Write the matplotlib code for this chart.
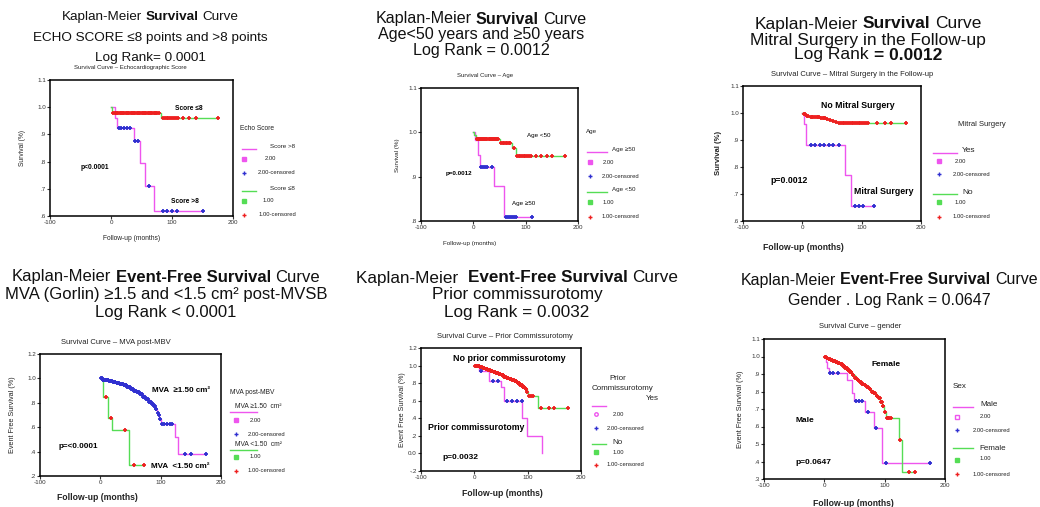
"""
 Six Kaplan-Meier survival panels (SPSS style) on one slide
"""

# Libraries
import numpy as np
import matplotlib
matplotlib.use("Agg")
import matplotlib.pyplot as plt
from matplotlib.lines import Line2D

plt.rcParams['font.family'] = ['Liberation Sans', 'DejaVu Sans']

# Constants
W, H     = 1040, 507
MAGENTA  = "#ee55ee"
GREEN    = "#55dd55"
BLUE     = "#3030d0"
RED      = "#ee2020"
X_TICKS  = [-100, 0, 100, 200]

# Panel 1 - echo score
echo_hi_times = [7, 10, 37, 48, 56, 70]
echo_hi_surv  = [0.961, 0.925, 0.874, 0.794, 0.712, 0.620]
echo_hi_cens  = [13, 17, 21, 26, 31, 40, 44, 63, 85, 92, 100, 108, 151]
echo_lo_times = [2, 82]
echo_lo_surv  = [0.980, 0.961]
echo_lo_cens  = [4, 6, 8, 10, 12, 14, 16, 18, 20, 22, 24, 26, 28, 30, 32, 34, 36, 38, 40, 42,
                 44, 46, 48, 50, 52, 54, 56, 58, 60, 62, 64, 66, 68, 70, 72, 74, 76, 78,
                 85, 88, 91, 94, 97, 100, 103, 106, 110, 118, 128, 140, 175]

# Panel 2 - age
age_hi_times = [4, 9, 12, 39, 58]
age_hi_surv  = [0.983, 0.949, 0.921, 0.879, 0.810]
age_hi_cens  = [15, 19, 23, 27, 35, 62, 66, 70, 74, 78, 82, 112]
age_lo_times = [2, 5, 50, 74, 81]
age_lo_surv  = [0.993, 0.986, 0.976, 0.965, 0.947]
age_lo_cens  = [7, 9, 11, 13, 15, 17, 19, 21, 23, 25, 27, 29, 31, 33, 35, 37, 39, 41, 43, 45, 47,
                53, 56, 59, 62, 65, 68, 71, 77, 84, 87, 90, 93, 96, 99, 102, 106, 110, 120, 130,
                140, 150, 175]

# Panel 3 - mitral surgery
mit_yes_times = [3, 6, 72, 82]
mit_yes_surv  = [0.961, 0.881, 0.770, 0.657]
mit_yes_cens  = [15, 22, 30, 37, 45, 52, 62, 88, 96, 102, 121]
mit_no_times  = [2, 6, 12, 20, 30, 40, 45, 50, 55, 60]
mit_no_surv   = [0.995, 0.990, 0.987, 0.985, 0.982, 0.978, 0.974, 0.970, 0.966, 0.962]
mit_no_cens   = [3, 5, 8, 10, 14, 16, 18, 22, 24, 26, 28, 32, 34, 36, 38, 42, 47, 52, 57, 62,
                 65, 68, 71, 74, 77, 80, 83, 86, 89, 92, 95, 98, 101, 104, 107, 110, 125, 140,
                 150, 175]

# Panel 4 - MVA post-MBV
mva_hi_times = [3, 8, 14, 20, 26, 32, 38, 44, 50, 55, 60, 65, 70, 75, 80, 85, 88, 91, 94, 96,
                98, 100, 124, 129]
mva_hi_surv  = [0.99, 0.985, 0.978, 0.972, 0.965, 0.955, 0.945, 0.93, 0.915, 0.90, 0.885, 0.87,
                0.85, 0.83, 0.81, 0.79, 0.77, 0.75, 0.72, 0.70, 0.67, 0.626, 0.52, 0.38]
mva_hi_cens  = [1, 2, 4, 5, 6, 7, 9, 10, 11, 12, 13, 15, 16, 17, 18, 19, 21, 22, 23, 24, 25, 27,
                28, 29, 30, 31, 33, 34, 35, 36, 37, 39, 40, 41, 42, 43, 45, 46, 47, 48, 49, 51,
                52, 53, 54, 56, 57, 58, 59, 61, 62, 63, 64, 66, 67, 68, 69, 71, 72, 73, 74, 76,
                77, 78, 79, 81, 82, 83, 84, 86, 87, 89, 90, 92, 93, 95, 97, 99, 103, 106, 110,
                115, 119, 140, 150, 175]
mva_lo_times = [5, 13, 19, 47]
mva_lo_surv  = [0.85, 0.672, 0.577, 0.29]
mva_lo_cens  = [10, 17, 41, 55, 72]

# Panel 5 - prior commissurotomy
com_yes_times = [8, 28, 50, 55, 90, 98, 127]
com_yes_surv  = [0.943, 0.829, 0.76, 0.60, 0.40, 0.20, 0.0]
com_yes_cens  = [13, 35, 45, 62, 71, 80, 89]
com_no_times  = [5, 10, 15, 20, 25, 30, 35, 40, 45, 50, 55, 60, 65, 70, 75, 80, 85, 90, 95, 98,
                 101, 120]
com_no_surv   = [0.99, 0.98, 0.97, 0.96, 0.95, 0.94, 0.93, 0.92, 0.905, 0.89, 0.875, 0.86, 0.85,
                 0.835, 0.82, 0.80, 0.78, 0.76, 0.73, 0.70, 0.657, 0.516]
com_no_cens   = [2, 3, 4, 6, 7, 8, 9, 11, 12, 13, 14, 16, 17, 18, 19, 21, 22, 23, 24, 26, 27, 28,
                 29, 31, 32, 33, 34, 36, 37, 38, 39, 41, 42, 43, 44, 46, 47, 48, 49, 51, 52, 53,
                 54, 56, 57, 58, 59, 61, 62, 63, 64, 66, 67, 68, 69, 71, 72, 73, 74, 76, 77, 78,
                 79, 81, 82, 83, 84, 86, 87, 88, 89, 91, 92, 93, 94, 96, 97, 99, 103, 106, 110,
                 125, 140, 150, 175]

# Panel 6 - gender
sex_m_times = [2, 4, 7, 38, 46, 49, 68, 82, 96]
sex_m_surv  = [0.968, 0.937, 0.905, 0.866, 0.794, 0.748, 0.685, 0.59, 0.393]
sex_m_cens  = [10, 15, 22, 52, 57, 62, 72, 85, 102, 175]
sex_f_times = [3, 6, 10, 14, 18, 22, 26, 30, 34, 38, 42, 46, 50, 54, 58, 62, 66, 70, 74, 78, 82,
               86, 90, 93, 96, 99, 102, 124, 128]
sex_f_surv  = [0.99, 0.985, 0.98, 0.975, 0.968, 0.962, 0.955, 0.945, 0.935, 0.924, 0.912, 0.895,
               0.876, 0.865, 0.855, 0.845, 0.838, 0.828, 0.815, 0.80, 0.79, 0.775, 0.761, 0.74,
               0.715, 0.685, 0.647, 0.523, 0.342]
sex_f_cens  = [1, 2, 4, 5, 7, 8, 9, 11, 12, 13, 15, 16, 17, 19, 20, 21, 23, 24, 25, 27, 28, 29,
               31, 32, 33, 35, 36, 37, 39, 40, 41, 43, 44, 45, 47, 48, 51, 52, 55, 56, 59, 60,
               63, 64, 67, 68, 71, 72, 75, 76, 79, 80, 83, 84, 87, 88, 91, 92, 94, 95, 97, 98,
               100, 104, 106, 108, 110, 126, 140, 150]


# Pixel -> figure coordinates
def fx(x):
    return x / W

def fy(y):
    return 1 - y / H

# Plain text in pixel coordinates
def ftext(fig, x, y, s, size, weight="normal", ha="center", rot=0, colour="#222222"):
    fig.text(fx(x), fy(y), s, fontsize=size, fontweight=weight, ha=ha, va="center",
             rotation=rot, color=colour)

# Title line with mixed normal / bold parts, centred on xc
def title_line(fig, xc, y, parts, size):
    r = fig.canvas.get_renderer()
    probe1 = fig.text(0, 0, "x x", fontsize=size)
    probe2 = fig.text(0, 0, "xx", fontsize=size)
    gap = probe1.get_window_extent(r).width - probe2.get_window_extent(r).width
    probe1.remove()
    probe2.remove()
    objs = [fig.text(0, 0, s, fontsize=size, fontweight=w, ha="left", va="center", color="#111111")
            for s, w in parts]
    widths = [t.get_window_extent(r).width for t in objs]
    x = xc - (sum(widths) + gap * (len(objs) - 1)) / 2
    for t, wd in zip(objs, widths):
        t.set_position((fx(x), fy(y)))
        x += wd + gap

# Axes box in pixel coordinates
def panel_axes(fig, box, ylim, yticks, ylabels):
    l, t, r, b = box
    ax = fig.add_axes([fx(l), fy(b), (r - l) / W, (b - t) / H])
    ax.set_xlim(-100, 200)
    ax.set_ylim(*ylim)
    ax.set_xticks(X_TICKS)
    ax.set_xticklabels([str(v) for v in X_TICKS])
    ax.set_yticks(yticks)
    ax.set_yticklabels(ylabels)
    ax.tick_params(labelsize=4.5, length=2, width=0.8, pad=1, colors="#333333")
    for s in ax.spines.values():
        s.set_linewidth(1.1)
    return ax

# Kaplan-Meier step curve with censored ticks
def km_curve(ax, times, surv, cens, line_colour, cens_colour):
    end = max(max(times), max(cens))
    xs = [0] + list(times) + [end]
    ys = [1.0] + list(surv) + [surv[-1]]
    ax.step(xs, ys, where="post", color=line_colour, lw=1.0, zorder=2)
    idx = np.searchsorted(times, cens, side="right")
    cy = np.array([1.0] + list(surv))[idx]
    ax.plot(cens, cy, linestyle="none", marker="+", ms=3, mew=1.3, color=cens_colour, zorder=3)

# Legend pieces
def leg_line(fig, x0, x1, y, colour):
    fig.add_artist(Line2D([fx(x0), fx(x1)], [fy(y), fy(y)], color=colour, lw=1.0,
                          transform=fig.transFigure))

def leg_mark(fig, x, y, colour, marker="s", filled=True, ms=2.2):
    fig.add_artist(Line2D([fx(x)], [fy(y)], marker=marker, ms=ms, mew=1.0, linestyle="none",
                          color=colour, markerfacecolor=colour if filled else "none",
                          transform=fig.transFigure))


fig = plt.figure(figsize=(W / 100, H / 100), dpi=100)
fig.patch.set_facecolor("white")

# ---------------- Panel 1 ----------------
title_line(fig, 150, 17, [("Kaplan-Meier", "normal"), ("Survival", "bold"), ("Curve", "normal")], 9.7)
title_line(fig, 150, 38, [("ECHO SCORE ≤8 points and >8 points", "normal")], 9.7)
title_line(fig, 150, 58, [("Log Rank= 0.0001", "normal")], 9.7)
ftext(fig, 130, 68, "Survival Curve – Echocardiographic Score", 4.3)
ax = panel_axes(fig, (50, 80, 233, 216), (0.6, 1.1), [0.6, 0.7, 0.8, 0.9, 1.0, 1.1],
                [".6", ".7", ".8", ".9", "1.0", "1.1"])
km_curve(ax, echo_hi_times, echo_hi_surv, echo_hi_cens, MAGENTA, BLUE)
km_curve(ax, echo_lo_times, echo_lo_surv, echo_lo_cens, GREEN, RED)
ax.text(127, 0.994, "Score ≤8", fontsize=4.8, fontweight="bold", ha="center", va="center")
ax.text(-26, 0.78, "p<0.0001", fontsize=4.8, fontweight="bold", ha="center", va="center")
ax.text(121, 0.655, "Score >8", fontsize=4.8, fontweight="bold", ha="center", va="center")
ftext(fig, 22, 148, "Survival (%)", 4.8, rot=90)
ftext(fig, 132, 239, "Follow-up (months)", 4.8)
ftext(fig, 257, 128, "Echo Score", 4.8)
leg_line(fig, 242, 256, 149, MAGENTA)
ftext(fig, 270, 147, "Score >8", 4.5, ha="left")
leg_mark(fig, 244, 159, MAGENTA)
ftext(fig, 270, 159, "2.00", 4.2)
leg_mark(fig, 244, 173, BLUE, marker="+", ms=2.5)
ftext(fig, 277, 173, "2.00-censored", 4.2)
leg_line(fig, 242, 256, 191, GREEN)
ftext(fig, 270, 189, "Score ≤8", 4.5, ha="left")
leg_mark(fig, 244, 201, GREEN)
ftext(fig, 268, 201, "1.00", 4.2)
leg_mark(fig, 244, 215, RED, marker="+", ms=2.5)
ftext(fig, 277, 215, "1.00-censored", 4.2)

# ---------------- Panel 2 ----------------
title_line(fig, 481, 19, [("Kaplan-Meier", "normal"), ("Survival", "bold"), ("Curve", "normal")], 11.6)
title_line(fig, 481, 34, [("Age<50 years and ≥50 years", "normal")], 11.6)
title_line(fig, 481, 51, [("Log Rank = 0.0012", "normal")], 11.6)
ftext(fig, 485, 75, "Survival Curve – Age", 4.3)
ax = panel_axes(fig, (421, 88, 578, 221), (0.8, 1.1), [0.8, 0.9, 1.0, 1.1],
                [".8", ".9", "1.0", "1.1"])
km_curve(ax, age_hi_times, age_hi_surv, age_hi_cens, MAGENTA, BLUE)
km_curve(ax, age_lo_times, age_lo_surv, age_lo_cens, GREEN, RED)
ax.text(125, 0.992, "Age <50", fontsize=4.5, ha="center", va="center")
ax.text(-27, 0.908, "p=0.0012", fontsize=4.5, fontweight="bold", ha="center", va="center")
ax.text(97, 0.84, "Age ≥50", fontsize=4.5, ha="center", va="center")
ftext(fig, 398, 155, "Survival (%)", 4.5, rot=90)
ftext(fig, 470, 243, "Follow-up (months)", 4.5)
ftext(fig, 592, 131, "Age", 4.5)
leg_line(fig, 587, 607, 152, MAGENTA)
ftext(fig, 612, 150, "Age ≥50", 4.5, ha="left")
leg_mark(fig, 590, 162, MAGENTA)
ftext(fig, 603, 162, "2.00", 4.2, ha="left")
leg_mark(fig, 590, 176, BLUE, marker="+", ms=2.5)
ftext(fig, 602, 176, "2.00-censored", 4.2, ha="left")
leg_line(fig, 587, 607, 192, GREEN)
ftext(fig, 612, 190, "Age <50", 4.5, ha="left")
leg_mark(fig, 590, 202, GREEN)
ftext(fig, 603, 202, "1.00", 4.2, ha="left")
leg_mark(fig, 590, 217, RED, marker="+", ms=2.5)
ftext(fig, 602, 217, "1.00-censored", 4.2, ha="left")

# ---------------- Panel 3 ----------------
title_line(fig, 868, 24, [("Kaplan-Meier", "normal"), ("Survival", "bold"), ("Curve", "normal")], 12.5)
title_line(fig, 868, 40, [("Mitral Surgery in the Follow-up", "normal")], 12.5)
title_line(fig, 868, 55, [("Log Rank", "normal"), ("= 0.0012", "bold")], 12.5)
ftext(fig, 852, 75, "Survival Curve – Mitral Surgery in the Follow-up", 5.5)
ax = panel_axes(fig, (743, 86, 921, 221), (0.6, 1.1), [0.6, 0.7, 0.8, 0.9, 1.0, 1.1],
                [".6", ".7", ".8", ".9", "1.0", "1.1"])
km_curve(ax, mit_yes_times, mit_yes_surv, mit_yes_cens, MAGENTA, BLUE)
km_curve(ax, mit_no_times, mit_no_surv, mit_no_cens, GREEN, RED)
ax.text(94, 1.027, "No Mitral Surgery", fontsize=6.3, fontweight="bold", ha="center", va="center")
ax.text(-22, 0.75, "p=0.0012", fontsize=6.3, fontweight="bold", ha="center", va="center")
ax.text(138, 0.71, "Mitral Surgery", fontsize=6.3, fontweight="bold", ha="center", va="center")
ftext(fig, 718, 153, "Survival (%)", 5.5, weight="bold", rot=90)
ftext(fig, 803, 247, "Follow-up (months)", 6.2, weight="bold")
ftext(fig, 982, 125, "Mitral Surgery", 5.5)
leg_line(fig, 933, 957, 153, MAGENTA)
ftext(fig, 962, 151, "Yes", 6.0, ha="left")
leg_mark(fig, 939, 161, MAGENTA)
ftext(fig, 955, 161, "2.00", 4.2, ha="left")
leg_mark(fig, 939, 174, BLUE, marker="+", ms=2.5)
ftext(fig, 953, 174, "2.00-censored", 4.2, ha="left")
leg_line(fig, 933, 957, 194, GREEN)
ftext(fig, 962, 193, "No", 6.0, ha="left")
leg_mark(fig, 939, 202, GREEN)
ftext(fig, 955, 202, "1.00", 4.2, ha="left")
leg_mark(fig, 939, 217, RED, marker="+", ms=2.5)
ftext(fig, 953, 217, "1.00-censored", 4.2, ha="left")

# ---------------- Panel 4 ----------------
title_line(fig, 166, 277, [("Kaplan-Meier", "normal"), ("Event-Free Survival", "bold"),
                           ("Curve", "normal")], 12)
title_line(fig, 166, 294, [("MVA (Gorlin) ≥1.5 and <1.5 cm² post-MVSB", "normal")], 12)
title_line(fig, 166, 312, [("Log Rank < 0.0001", "normal")], 12)
ftext(fig, 116, 343, "Survival Curve – MVA post-MBV", 5.5)
ax = panel_axes(fig, (40, 354, 221, 476), (0.2, 1.2), [0.2, 0.4, 0.6, 0.8, 1.0, 1.2],
                [".2", ".4", ".6", ".8", "1.0", "1.2"])
km_curve(ax, mva_hi_times, mva_hi_surv, mva_hi_cens, MAGENTA, BLUE)
km_curve(ax, mva_lo_times, mva_lo_surv, mva_lo_cens, GREEN, RED)
ax.text(133, 0.90, "MVA  ≥1.50 cm²", fontsize=5.8, fontweight="bold", ha="center", va="center")
ax.text(-36, 0.44, "p=<0.0001", fontsize=5.8, fontweight="bold", ha="center", va="center")
ax.text(133, 0.28, "MVA  <1.50 cm²", fontsize=5.8, fontweight="bold", ha="center", va="center")
ftext(fig, 13, 415, "Event Free Survival (%)", 5.2, rot=90)
ftext(fig, 97, 498, "Follow-up (months)", 6.2, weight="bold")
ftext(fig, 230, 392, "MVA post-MBV", 4.8, ha="left")
ftext(fig, 235, 407, "MVA ≥1.50  cm²", 4.8, ha="left")
leg_line(fig, 230, 257, 412, MAGENTA)
leg_mark(fig, 236, 420, MAGENTA)
ftext(fig, 250, 420, "2.00", 4.2, ha="left")
leg_mark(fig, 236, 434, BLUE, marker="+", ms=2.5)
ftext(fig, 248, 434, "2.00-censored", 4.2, ha="left")
ftext(fig, 235, 445, "MVA <1.50  cm²", 4.8, ha="left")
leg_line(fig, 230, 257, 450, GREEN)
leg_mark(fig, 236, 457, GREEN)
ftext(fig, 250, 457, "1.00", 4.2, ha="left")
leg_mark(fig, 236, 471, RED, marker="+", ms=2.5)
ftext(fig, 248, 471, "1.00-censored", 4.2, ha="left")

# ---------------- Panel 5 ----------------
title_line(fig, 517, 278, [("Kaplan-Meier ", "normal"), ("Event-Free Survival", "bold"),
                           ("Curve", "normal")], 12.3)
title_line(fig, 517, 295, [("Prior commissurotomy", "normal")], 12.3)
title_line(fig, 517, 313, [("Log Rank = 0.0032", "normal")], 12.3)
ftext(fig, 505, 337, "Survival Curve – Prior Commissurotomy", 5.5)
ax = panel_axes(fig, (421, 348, 581, 471), (-0.2, 1.2),
                [-0.2, 0.0, 0.2, 0.4, 0.6, 0.8, 1.0, 1.2],
                ["-.2", "0.0", ".2", ".4", ".6", ".8", "1.0", "1.2"])
km_curve(ax, com_yes_times, com_yes_surv, com_yes_cens, MAGENTA, BLUE)
km_curve(ax, com_no_times, com_no_surv, com_no_cens, GREEN, RED)
ax.text(65, 1.076, "No prior commissurotomy", fontsize=6.5, fontweight="bold", ha="center", va="center")
ax.text(4, 0.30, "Prior commissurotomy", fontsize=6.3, fontweight="bold", ha="center", va="center")
ax.text(-26, -0.05, "p=0.0032", fontsize=6.0, fontweight="bold", ha="center", va="center")
ftext(fig, 402, 410, "Event Free Survival (%)", 5.0, rot=90)
ftext(fig, 502, 493, "Follow-up (months)", 6.2, weight="bold")
ftext(fig, 618, 378, "Prior", 5.8)
ftext(fig, 622, 388, "Commissurotomy", 5.8)
ftext(fig, 652, 398, "Yes", 5.8)
leg_line(fig, 592, 606, 406, MAGENTA)
leg_mark(fig, 596, 414, MAGENTA, marker="o", filled=False, ms=2.5)
ftext(fig, 613, 414, "2.00", 4.2, ha="left")
leg_mark(fig, 596, 428, BLUE, marker="+", ms=2.5)
ftext(fig, 607, 428, "2.00-censored", 4.2, ha="left")
leg_line(fig, 592, 606, 444, GREEN)
ftext(fig, 612, 442, "No", 5.8, ha="left")
leg_mark(fig, 596, 452, GREEN)
ftext(fig, 613, 452, "1.00", 4.2, ha="left")
leg_mark(fig, 596, 465, RED, marker="+", ms=2.5)
ftext(fig, 607, 465, "1.00-censored", 4.2, ha="left")

# ---------------- Panel 6 ----------------
title_line(fig, 889, 280, [("Kaplan-Meier", "normal"), ("Event-Free Survival", "bold"),
                           ("Curve", "normal")], 11.5)
title_line(fig, 889, 300, [("Gender . Log Rank = 0.0647", "normal")], 11.5)
ftext(fig, 860, 327, "Survival Curve – gender", 5.5)
ax = panel_axes(fig, (764, 339, 945, 479), (0.3, 1.1),
                [0.3, 0.4, 0.5, 0.6, 0.7, 0.8, 0.9, 1.0, 1.1],
                [".3", ".4", ".5", ".6", ".7", ".8", ".9", "1.0", "1.1"])
km_curve(ax, sex_m_times, sex_m_surv, sex_m_cens, MAGENTA, BLUE)
km_curve(ax, sex_f_times, sex_f_surv, sex_f_cens, GREEN, RED)
ax.text(102, 0.952, "Female", fontsize=6.0, fontweight="bold", ha="center", va="center")
ax.text(-32, 0.637, "Male", fontsize=6.0, fontweight="bold", ha="center", va="center")
ax.text(-18, 0.393, "p=0.0647", fontsize=6.0, fontweight="bold", ha="center", va="center")
ftext(fig, 740, 409, "Event Free Survival (%)", 5.3, rot=90)
ftext(fig, 853, 503, "Follow-up (months)", 6.2, weight="bold")
ftext(fig, 953, 386, "Sex", 5.8, ha="left")
leg_line(fig, 953, 973, 407, MAGENTA)
ftext(fig, 980, 405, "Male", 5.8, ha="left")
leg_mark(fig, 957, 417, MAGENTA, filled=False, ms=2.5)
ftext(fig, 980, 416, "2.00", 4.2, ha="left")
leg_mark(fig, 957, 430, BLUE, marker="+", ms=2.5)
ftext(fig, 973, 430, "2.00-censored", 4.2, ha="left")
leg_line(fig, 953, 973, 448, GREEN)
ftext(fig, 979, 448, "Female", 5.8, ha="left")
leg_mark(fig, 957, 460, GREEN)
ftext(fig, 980, 459, "1.00", 4.2, ha="left")
leg_mark(fig, 957, 474, RED, marker="+", ms=2.5)
ftext(fig, 973, 474, "1.00-censored", 4.2, ha="left")

fig.savefig("out.png", dpi=100, facecolor="white")
